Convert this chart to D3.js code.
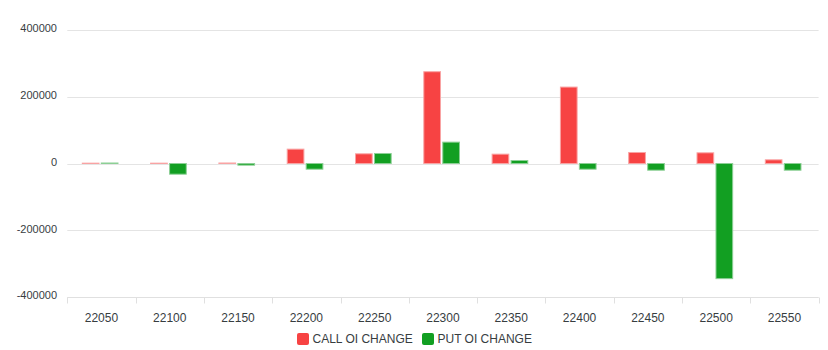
<!DOCTYPE html>
<html>
<head>
<meta charset="utf-8">
<script src="https://cdn.jsdelivr.net/npm/d3@7"></script>
<style>
  body { margin: 0; background: #fff; }
  text { font-family: "Liberation Sans", Arial, sans-serif; }
</style>
</head>
<body>
<div id="chart"></div>
<script>
var strikes = ['22050', '22100', '22150', '22200', '22250', '22300', '22350', '22400', '22450', '22500', '22550'];
var callOiChange = [1000, 1000, 1500, 43000, 29000, 275000, 28000, 229000, 33000, 32000, 11000];
var putOiChange = [1500, -32000, -5000, -17000, 30000, 64000, 9000, -17000, -20000, -345000, -20000];
var yTicks = [-400000, -200000, 0, 200000, 400000];
var seriesNames = ['CALL OI CHANGE', 'PUT OI CHANGE'];

var colors = ['#f74343', '#129f22'];
var strokes = ['#f9a3a3', '#8ccf95'];

var width = 828, height = 350;
var plotLeft = 67.3, plotRight = 818.6, plotTop = 30, plotBottom = 297;

var svg = d3.select('#chart').append('svg')
  .attr('width', width)
  .attr('height', height);

var x = d3.scaleBand()
  .domain(strikes)
  .range([plotLeft, plotRight])
  .paddingInner(0)
  .paddingOuter(0);

var y = d3.scaleLinear()
  .domain([-400000, 400000])
  .range([plotBottom, plotTop]);

// grid lines
svg.append('g')
  .selectAll('line')
  .data(yTicks)
  .enter()
  .append('line')
  .attr('x1', plotLeft)
  .attr('x2', plotRight)
  .attr('y1', (d) => Math.round(y(d)) + 0.5)
  .attr('y2', (d) => Math.round(y(d)) + 0.5)
  .attr('stroke', '#e4e4e4')
  .attr('stroke-width', 1);

// y labels
svg.append('g')
  .selectAll('text')
  .data(yTicks)
  .enter()
  .append('text')
  .attr('x', 57)
  .attr('y', (d) => y(d) - 1.5)
  .attr('dy', '0.35em')
  .attr('text-anchor', 'end')
  .attr('font-size', '11px')
  .attr('fill', '#373d3f')
  .text((d) => d);

// x axis
var ax = svg.append('g')
  .attr('transform', 'translate(0,' + (Math.round(plotBottom) + 0.5) + ')');
ax.append('line')
  .attr('x1', plotLeft).attr('x2', plotRight)
  .attr('stroke', '#e0e0e0');
ax.selectAll('.tk')
  .data(strikes.concat(['end']))
  .enter()
  .append('line')
  .attr('x1', (d, i) => Math.round(plotLeft + i * x.bandwidth()) + 0.5)
  .attr('x2', (d, i) => Math.round(plotLeft + i * x.bandwidth()) + 0.5)
  .attr('y1', 0).attr('y2', 6)
  .attr('stroke', '#e0e0e0');
ax.selectAll('.lbl')
  .data(strikes)
  .enter()
  .append('text')
  .attr('x', (d) => x(d) + x.bandwidth() / 2)
  .attr('y', 20)
  .attr('dy', '0.35em')
  .attr('text-anchor', 'middle')
  .attr('font-size', '12px')
  .attr('fill', '#373d3f')
  .text((d) => d);

// bars
var inner = d3.scaleBand()
  .domain([0, 1])
  .range([0, x.bandwidth()])
  .paddingOuter(0.86)
  .paddingInner(0.12)
  .align(0.46);

var series = [callOiChange, putOiChange];
series.forEach((vals, s) => {
  svg.append('g')
    .selectAll('rect')
    .data(vals)
    .enter()
    .append('rect')
    .attr('x', (d, i) => x(strikes[i]) + inner(s))
    .attr('width', inner.bandwidth())
    .attr('y', (d) => Math.min(y(d), y(0)))
    .attr('height', (d) => Math.abs(y(d) - y(0)))
    .attr('fill', colors[s])
    .attr('stroke', strokes[s])
    .attr('stroke-width', 1);
});

// legend
var legend = svg.append('g');
var legendX = [297, 422];
seriesNames.forEach((name, i) => {
  legend.append('rect')
    .attr('x', legendX[i])
    .attr('y', 333)
    .attr('width', 12)
    .attr('height', 12)
    .attr('rx', 2)
    .attr('fill', colors[i]);
  legend.append('text')
    .attr('x', legendX[i] + 15.5)
    .attr('y', 339)
    .attr('dy', '0.35em')
    .attr('font-size', '12px')
    .attr('fill', '#373d3f')
    .text(name);
});
</script>
</body>
</html>
